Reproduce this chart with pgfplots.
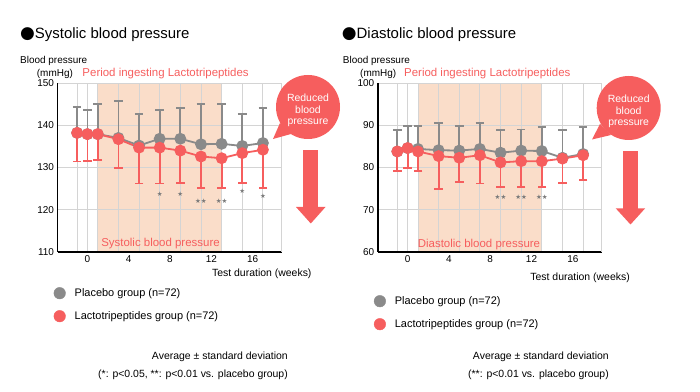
\documentclass[border=0pt]{standalone}
\usepackage{pgfplots}
\pgfplotsset{compat=1.18}
\usepackage{pgfplotstable}
\usepackage{fontspec}
\setmainfont{Liberation Sans}
\newfontfamily\bulletfont{DejaVu Sans}
\definecolor{bpred}{HTML}{F65E5E}
\definecolor{bpgray}{HTML}{8A8A8A}
\definecolor{peach}{HTML}{FADDC9}
\definecolor{gridgray}{HTML}{D4D4D4}
\definecolor{stargray}{HTML}{7A7A7A}

% week, mean, error
\pgfplotstableread{
w m e
-1 138.2 6.1
0 137.9 5.7
1 137.9 7.2
3 137.0 8.8
5 135.2 7.5
7 136.8 6.8
9 136.8 7.2
11 135.5 9.5
13 135.6 9.4
15 135.1 7.6
17 135.8 8.2
}\sysplacebo
\pgfplotstableread{
w m e
-1 138.2 6.8
0 137.9 6.4
1 137.9 6.1
3 136.7 6.9
5 134.7 8.5
7 134.7 8.5
9 134.0 7.7
11 132.6 7.5
13 132.2 7.0
15 133.4 7.1
17 134.2 9.0
}\syslacto
\pgfplotstableread{
w m e
-1 83.8 5.1
0 84.6 5.2
1 84.4 5.4
3 84.1 6.4
5 84.0 5.8
7 84.4 6.1
9 83.5 5.4
11 84.0 5.0
13 83.9 5.6
15 82.3 6.6
17 83.2 6.3
}\diaplacebo
\pgfplotstableread{
w m e
-1 83.8 4.7
0 84.6 4.8
1 83.8 4.6
3 82.7 7.7
5 82.3 5.7
7 82.9 6.7
9 81.2 5.9
11 81.5 6.2
13 81.5 6.2
15 82.1 5.7
17 82.9 5.9
}\dialacto

\pgfplotsset{
  bpaxis/.style={
    set layers,
    scale only axis, width=224bp, height=169bp,
    xmin=-2.9, xmax=18.8,
    axis x line*=bottom, axis y line*=left,
    axis line style={black, line width=1.6bp, -},
    xtick={-1,0,1,3,5,7,9,11,13,15,17}, xticklabels={},
    xmajorgrids, ymajorgrids,
    major grid style={gridgray, line width=0.9bp},
    major tick length=0pt,
    extra x ticks={0,4,8,12,16},
    extra x tick labels={0,4,8,12,16},
    extra x tick style={grid=none, major tick length=0pt},
    tick label style={font=\fontsize{10}{12}\selectfont},
    /pgf/number format/assume math mode=true,
    clip=false,
    legend style={draw=none, fill=none, font=\fontsize{11}{13}\selectfont,
      anchor=north west, row sep=11bp, column sep=8bp, inner sep=0pt,
      nodes={inner sep=1bp}},
    legend cell align=left,
    legend image code/.code={\fill (0bp,0bp) circle (5.8bp);},
  },
  gser/.style={bpgray, line width=1.8bp, mark=*, mark size=5bp,
    mark options={fill=bpgray, draw=none, solid},
    error bars/y dir=plus, error bars/y explicit,
    error bars/error mark=-,
    error bars/error bar style={line width=1.8bp, bpgray},
    error bars/error mark options={rotate=90, mark size=4.3bp, line width=1.8bp, bpgray}},
  rser/.style={bpred, line width=1.8bp, mark=*, mark size=5bp,
    mark options={fill=bpred, draw=none, solid},
    error bars/y dir=minus, error bars/y explicit,
    error bars/error mark=-,
    error bars/error bar style={line width=1.8bp, bpred},
    error bars/error mark options={rotate=90, mark size=4.3bp, line width=1.8bp, bpred}},
  stars/.style={only marks, mark=none, nodes near coords,
    point meta=explicit symbolic,
    every node near coord/.append style={anchor=center, text=stargray,
      font=\bulletfont\fontsize{6.5}{7}\selectfont, inner sep=0pt}},
}

\begin{document}
\begin{tikzpicture}

% ---------------- Systolic ----------------
\begin{axis}[bpaxis, at={(57.5bp,140bp)}, anchor=south west,
  ymin=110, ymax=150, ytick={110,120,130,140,150},
  legend style={at={(axis description cs:0,0)}, xshift=-4bp, yshift=-35bp}]
\addplot[on layer=axis background, fill=peach, draw=none, forget plot]
  coordinates {(1,110) (1,150) (13,150) (13,110)} -- cycle;
\draw[gridgray, line width=0.9bp] (rel axis cs:1,0) -- (rel axis cs:1,1);
\addplot[gser, forget plot] table[x=w, y=m, y error=e] {\sysplacebo};
\addplot[rser, forget plot] table[x=w, y=m, y error=e] {\syslacto};
\addplot[stars, forget plot] coordinates {(7,123.6)[★] (9,123.6)[★] (11,122.1)[★★] (13,122.1)[★★] (15,124.3)[★] (17,123.1)[★]};
\addlegendimage{bpgray}
\addlegendentry{Placebo group (n=72)}
\addlegendimage{bpred}
\addlegendentry{Lactotripeptides group (n=72)}
\end{axis}

% ---------------- Diastolic ----------------
\begin{axis}[bpaxis, at={(377.7bp,140bp)}, anchor=south west,
  ymin=60, ymax=100, ytick={60,70,80,90,100},
  legend style={at={(axis description cs:0,0)}, xshift=-4bp, yshift=-43bp}]
\addplot[on layer=axis background, fill=peach, draw=none, forget plot]
  coordinates {(1,60) (1,100) (13,100) (13,60)} -- cycle;
\draw[gridgray, line width=0.9bp] (rel axis cs:1,0) -- (rel axis cs:1,1);
\addplot[gser, forget plot] table[x=w, y=m, y error=e] {\diaplacebo};
\addplot[rser, forget plot] table[x=w, y=m, y error=e] {\dialacto};
\addplot[stars, forget plot] coordinates {(9,72.9)[★★] (11,72.9)[★★] (13,72.9)[★★]};
\addlegendimage{bpgray}
\addlegendentry{Placebo group (n=72)}
\addlegendimage{bpred}
\addlegendentry{Lactotripeptides group (n=72)}
\end{axis}

\begin{scope}[x=1bp, y=-1bp, shift={(0bp,392bp)}]
\node[anchor=base west, font=\fontsize{15}{18}\selectfont, inner sep=0pt] at (20,38.5) {{\bulletfont\fontsize{17}{17}\selectfont ●}Systolic blood pressure};
\node[anchor=base west, font=\fontsize{10}{12}\selectfont, inner sep=0pt] at (20,63.5) {Blood pressure};
\node[anchor=base west, font=\fontsize{10}{12}\selectfont, inner sep=0pt] at (36.7,76.5) {(mmHg)};
\node[anchor=base west, font=\fontsize{11.5}{14}\selectfont, text=bpred, inner sep=0pt] at (82.3,77) {Period ingesting Lactotripeptides};
\node[anchor=base, font=\fontsize{11.5}{14}\selectfont, text=bpred, inner sep=0pt] at (160.5,246.5) {Systolic blood pressure};
\node[anchor=base east, font=\fontsize{10.5}{12}\selectfont, inner sep=0pt] at (311.7,277) {Test duration (weeks)};
\node[anchor=base east, font=\fontsize{10.5}{12}\selectfont, inner sep=0pt] at (288,360) {Average ± standard deviation};
\node[anchor=base east, font=\fontsize{10.5}{12}\selectfont, inner sep=0pt] at (288,378) {(*: p<0.05, **: p<0.01 vs. placebo group)};
\fill[bpred] (308,107) circle (32bp);
\fill[bpred] (280,123) -- (273,139) -- (291,134) -- cycle;
\node[align=center, text=white, font=\fontsize{10.5}{11.8}\selectfont] at (308,110.5) {Reduced\\blood\\pressure};
\fill[bpred] (303.3,150) rectangle (318.3,207.5);
\fill[bpred] (296,207) -- (325.5,207) -- (310.8,223.5) -- cycle;

\node[anchor=base west, font=\fontsize{15}{18}\selectfont, inner sep=0pt] at (341.7,38.5) {{\bulletfont\fontsize{17}{17}\selectfont ●}Diastolic blood pressure};
\node[anchor=base west, font=\fontsize{10}{12}\selectfont, inner sep=0pt] at (342.7,63.5) {Blood pressure};
\node[anchor=base west, font=\fontsize{10}{12}\selectfont, inner sep=0pt] at (360,76.5) {(mmHg)};
\node[anchor=base west, font=\fontsize{11.5}{14}\selectfont, text=bpred, inner sep=0pt] at (404,77) {Period ingesting Lactotripeptides};
\node[anchor=base, font=\fontsize{11.5}{14}\selectfont, text=bpred, inner sep=0pt] at (479,247.5) {Diastolic blood pressure};
\node[anchor=base east, font=\fontsize{10.5}{12}\selectfont, inner sep=0pt] at (630,280.5) {Test duration (weeks)};
\node[anchor=base east, font=\fontsize{10.5}{12}\selectfont, inner sep=0pt] at (609,360) {Average ± standard deviation};
\node[anchor=base east, font=\fontsize{10.5}{12}\selectfont, inner sep=0pt] at (609,378) {(**: p<0.01 vs. placebo group)};
\fill[bpred] (628.7,108) circle (32bp);
\fill[bpred] (600,124) -- (592,139.5) -- (611,135) -- cycle;
\node[align=center, text=white, font=\fontsize{10.5}{11.8}\selectfont] at (628.7,111.5) {Reduced\\blood\\pressure};
\fill[bpred] (623.3,151) rectangle (638.3,208.8);
\fill[bpred] (615.7,208.3) -- (645.2,208.3) -- (630.5,224.5) -- cycle;
\end{scope}
\pgfresetboundingbox
\path[use as bounding box] (0bp,0bp) rectangle (700bp,392bp);
\end{tikzpicture}
\end{document}
